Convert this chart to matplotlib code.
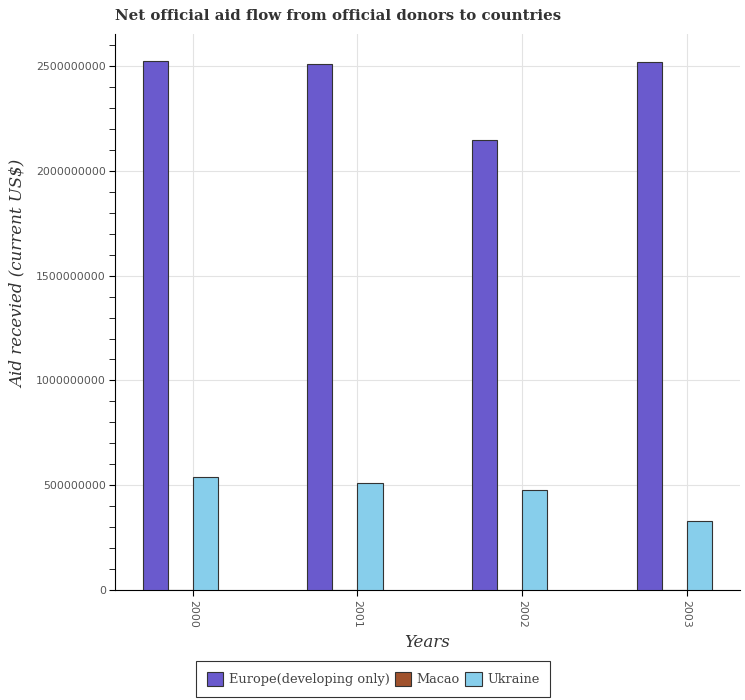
import matplotlib
matplotlib.use("Agg")
import matplotlib.pyplot as plt
from matplotlib.ticker import MultipleLocator
import numpy as np

years = ["2000", "2001", "2002", "2003"]
europe = [2.525e9, 2.508e9, 2.146e9, 2.518e9]
macao = [4.0e5, 3.0e5, 2.0e5, 1.0e5]
ukraine = [5.39e8, 5.12e8, 4.76e8, 3.28e8]

series = [("Europe(developing only)", europe, "#6a5acd"),
          ("Macao", macao, "#a0522d"),
          ("Ukraine", ukraine, "#87ceeb")]

fig = plt.figure(figsize=(7.45, 7.0), dpi=100)
ax = fig.add_axes([115/745, 110/700, (740-115)/745, (590-34)/700])

x = np.arange(len(years))
w = 0.152
offsets = [-1.5*w, -0.5*w, 0.5*w]
for (name, vals, col), off in zip(series, offsets):
    ax.bar(x + off, vals, width=w, color=col, edgecolor="#333333", linewidth=0.8,
           label=name, zorder=3)

ax.set_xlim(-0.474, 3.325)
ax.set_ylim(0, 2.653e9)
ax.set_xticks(x)
ax.set_xticklabels(years, rotation=-90, color="#555555", fontsize=7.8,
                   family="DejaVu Sans")
ax.yaxis.set_major_locator(MultipleLocator(5e8))
ax.yaxis.set_minor_locator(MultipleLocator(1e8))
ax.yaxis.set_major_formatter(matplotlib.ticker.FuncFormatter(lambda v, p: f"{int(v)}"))
ax.tick_params(axis="y", labelsize=7.8, labelcolor="#555555", direction="out",
               length=4.5, pad=2)
ax.tick_params(axis="y", which="minor", length=4.5)
ax.tick_params(axis="x", direction="out", length=4.5, pad=3)

ax.grid(True, which="major", color="#e3e3e3", linewidth=0.8, zorder=0)
ax.set_axisbelow(True)
for s in ["top", "right"]:
    ax.spines[s].set_visible(False)
ax.spines["left"].set_color("#000000")
ax.spines["bottom"].set_color("#000000")

ax.set_xlabel("Years", fontsize=12, family="DejaVu Serif", style="italic",
              color="#333333", labelpad=4)
ax.set_ylabel("Aid recevied (current US$)", fontsize=12, family="DejaVu Serif",
              style="italic", color="#333333")
ax.yaxis.set_label_coords(-0.141, 0.568)
ax.set_title("Net official aid flow from official donors to countries",
             loc="left", fontsize=10.8, fontweight="bold", family="DejaVu Serif",
             color="#333333", pad=10)

leg = fig.legend(loc="center", bbox_to_anchor=(373/745, 1 - 679/700), ncol=3,
                 frameon=True, fancybox=False, edgecolor="#000000",
                 prop={"family": "DejaVu Serif", "size": 9.3},
                 handlelength=1.3, handleheight=1.3, handletextpad=0.4,
                 columnspacing=0.4, borderpad=0.85)
leg.get_frame().set_linewidth(0.8)
for t in leg.get_texts():
    t.set_color("#444444")

fig.savefig("out.png", dpi=100)
